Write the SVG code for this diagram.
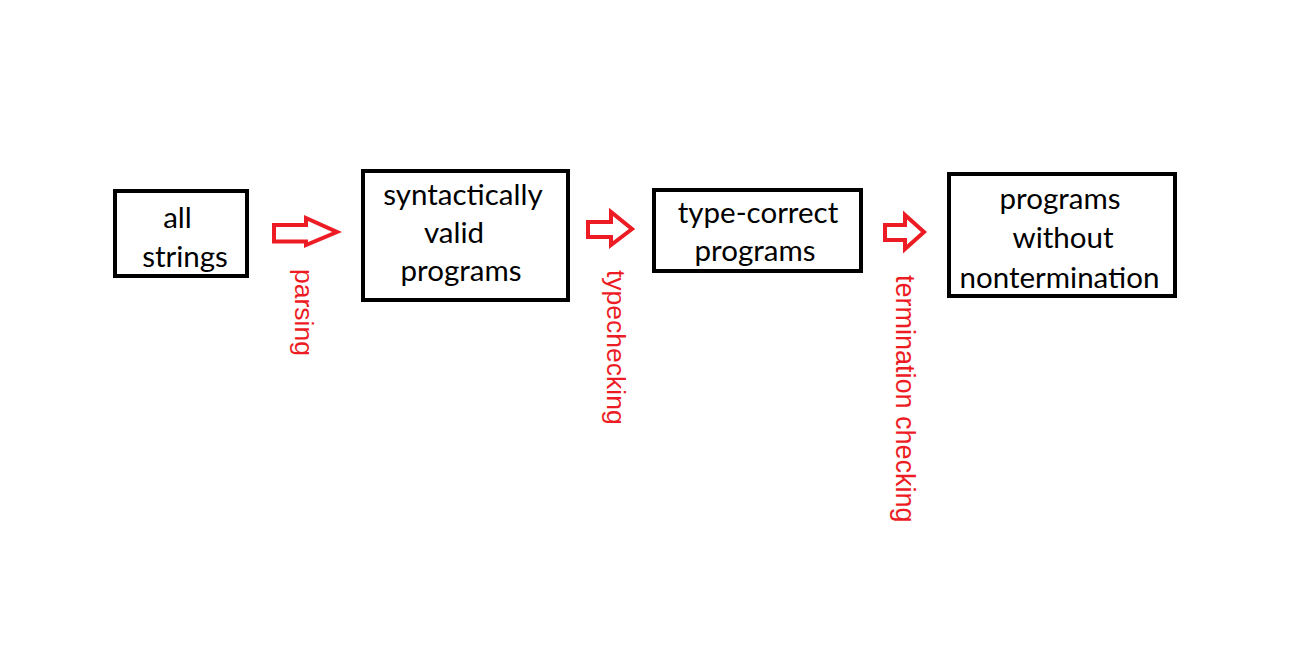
<svg xmlns="http://www.w3.org/2000/svg" width="1296" height="648" viewBox="0 0 1296 648">
<style>
.box{fill:#fff;stroke:#000;stroke-width:4}
.t{font-family:Lato,"Liberation Sans",sans-serif;font-size:29.5px;fill:#000;text-anchor:middle}
.arr{fill:#fff;stroke:#ED1C24;stroke-width:4;stroke-linejoin:miter}
.lbl{font-family:"Liberation Sans",Arial,sans-serif;font-size:26.5px;fill:#ED1C24}
</style>
<rect width="1296" height="648" fill="#fff"/>
<g id="node-all-strings">
<rect class="box" x="115" y="191" width="132" height="85"/>
<text class="t" x="177.5" y="228">all</text>
<text class="t" x="185" y="267">strings</text>
</g>
<g id="node-syntactically-valid">
<rect class="box" x="363" y="171" width="205" height="129"/>
<text class="t" x="463" y="205">syntactically</text>
<text class="t" x="454" y="243">valid</text>
<text class="t" x="461" y="281">programs</text>
</g>
<g id="node-type-correct">
<rect class="box" x="654" y="190" width="207" height="81"/>
<text class="t" x="758" y="223">type-correct</text>
<text class="t" x="755" y="261">programs</text>
</g>
<g id="node-without-nontermination">
<rect class="box" x="949" y="174" width="226" height="122"/>
<text class="t" x="1060" y="209">programs</text>
<text class="t" x="1063" y="248">without</text>
<text class="t" x="1059.5" y="288">nontermination</text>
</g>
<g id="connectors">
<polygon class="arr" points="274,225 306,225 306,218 337,232 306,245 306,241.5 274,241.5"/>
<polygon class="arr" points="588,222 611,222 611,212 632,229 611,245 611,237 588,237"/>
<polygon class="arr" points="885,225 905,225 905,215 924,232 905,249 905,240 885,240"/>
<text class="lbl" transform="translate(295,269) rotate(90)">parsing</text>
<text class="lbl" transform="translate(607,270) rotate(90)">typechecking</text>
<text class="lbl" style="font-size:27px" transform="translate(896,275) rotate(90)">termination checking</text>
</g>
</svg>
